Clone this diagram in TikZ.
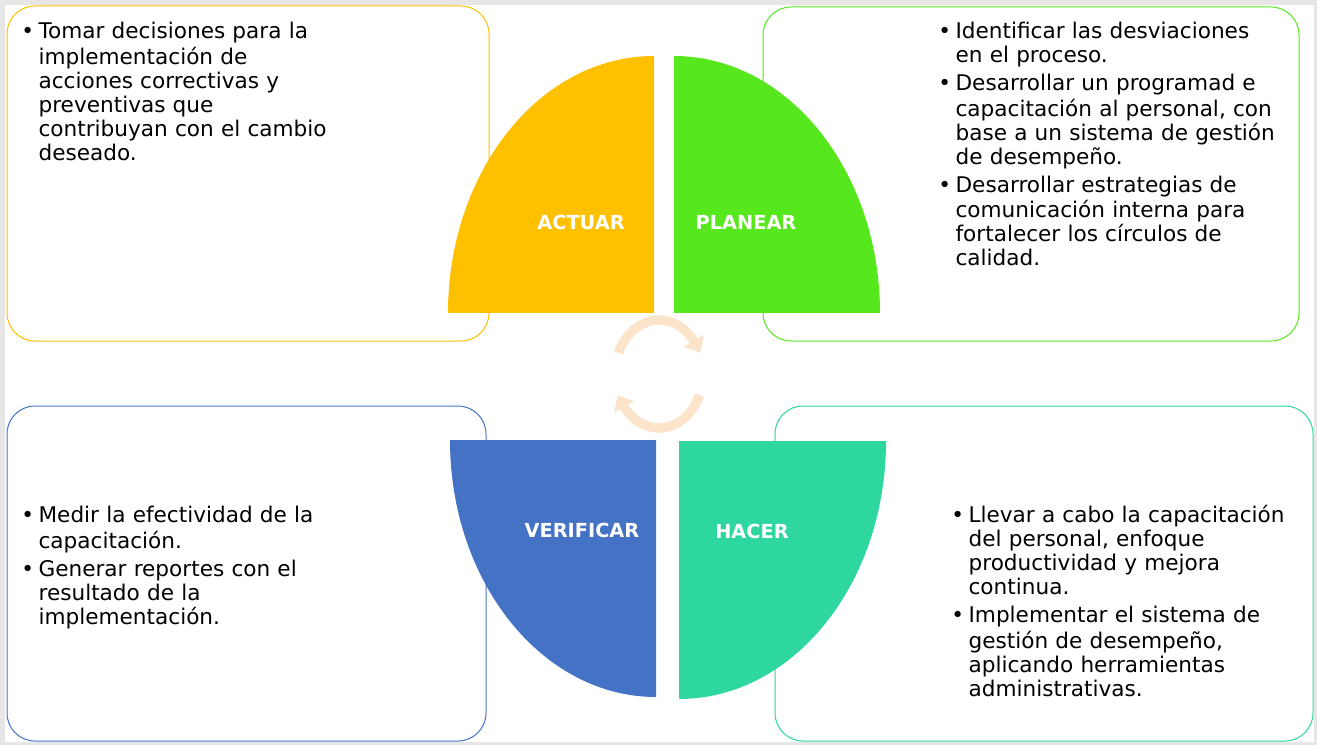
\documentclass[tikz,border=0pt]{standalone}
\usepackage{fontspec}
\setmainfont{DejaVu Sans}
\usetikzlibrary{arrows.meta, bending}

\definecolor{cactuar}{HTML}{FFC000}
\definecolor{cplanear}{HTML}{56E81C}
\definecolor{cverificar}{HTML}{4472C4}
\definecolor{chacer}{HTML}{2ED6A0}
\definecolor{cflecha}{HTML}{FCE4CA}
\definecolor{cfondo}{HTML}{E6E6E6}

% vineta con sangria francesa
\newcommand{\punto}{\par\hangindent=13pt\hangafter=1\noindent\strut\makebox[13pt][l]{\textbullet}}

\tikzset{
    caja/.style={line width=0.75pt, rounded corners=21pt},
    etiqueta/.style={text=white, inner sep=0pt, font=\fontsize{14.5}{17}\selectfont\bfseries},
    texto/.style={anchor=north west, inner sep=0pt, text width=420pt,
        font=\fontsize{16.2}{18}\selectfont\setlength{\parskip}{3pt}},
    flecha/.style={cflecha, line width=7pt, -{Triangle[width=17pt, length=10pt, bend]}}
}

\begin{document}
\begin{tikzpicture}[x=0.75pt, y=-0.75pt]

        % ==========================================
        % FONDO
        % ==========================================
        \useasboundingbox (0,0) rectangle (1317,745);
        \fill[cfondo] (0,0) rectangle (1317,745);
        \fill[white] (5,5) rectangle (1314,742);

        % Cajas de texto (bordes redondeados)
        \draw[caja, cactuar] (7,6) rectangle (489,341);
        \draw[caja, cplanear] (763,7) rectangle (1299,341);
        \draw[caja, cverificar] (7,406) rectangle (486,741);
        \draw[caja, chacer] (775,406) rectangle (1313,741);

        % ==========================================
        % CENTRO: los cuatro cuartos de elipse
        % ==========================================
        \fill[cactuar] (654,313) -- (448,313) arc[start angle=180, end angle=270, x radius=206, y radius=257] -- cycle;
        \fill[cplanear] (674,313) -- (880,313) arc[start angle=0, end angle=-90, x radius=206, y radius=257] -- cycle;
        \fill[cverificar] (656,440) -- (450,440) arc[start angle=180, end angle=90, x radius=206, y radius=257] -- cycle;
        \fill[chacer] (679,441) -- (886,441) arc[start angle=0, end angle=90, x radius=207, y radius=258] -- cycle;

        % Flechas del ciclo
        \draw[flecha] (618.5,352.9) arc[start angle=203, end angle=337, x radius=44, y radius=54];
        \draw[flecha] (699.5,395.1) arc[start angle=23, end angle=157, x radius=44, y radius=54];

        % Etiquetas
        \node[etiqueta] (actuar) at (581,222) {ACTUAR};
        \node[etiqueta] (planear) at (746,222) {PLANEAR};
        \node[etiqueta] (verificar) at (582,530) {VERIFICAR};
        \node[etiqueta] (hacer) at (752,531) {HACER};

        % ==========================================
        % TEXTOS
        % ==========================================
        \node[texto] (tactuar) at (21,10) {%
            \punto Tomar decisiones para la\newline implementación de\newline acciones correctivas y\newline preventivas que\newline contribuyan con el cambio\newline deseado.\par};

        \node[texto] (tplanear) at (938,10) {%
            \punto Identificar las desviaciones\newline en el proceso.
            \punto Desarrollar un programad e\newline capacitación al personal, con\newline base a un sistema de gestión\newline de desempeño.
            \punto Desarrollar estrategias de\newline comunicación interna para\newline fortalecer los círculos de\newline calidad.\par};

        \node[texto] (tverificar) at (21,494) {%
            \punto Medir la efectividad de la\newline capacitación.
            \punto Generar reportes con el\newline resultado de la\newline implementación.\par};

        \node[texto] (thacer) at (951,494) {%
            \punto Llevar a cabo la capacitación\newline del personal, enfoque\newline productividad y mejora\newline continua.
            \punto Implementar el sistema de\newline gestión de desempeño,\newline aplicando herramientas\newline administrativas.\par};

\end{tikzpicture}
\end{document}
